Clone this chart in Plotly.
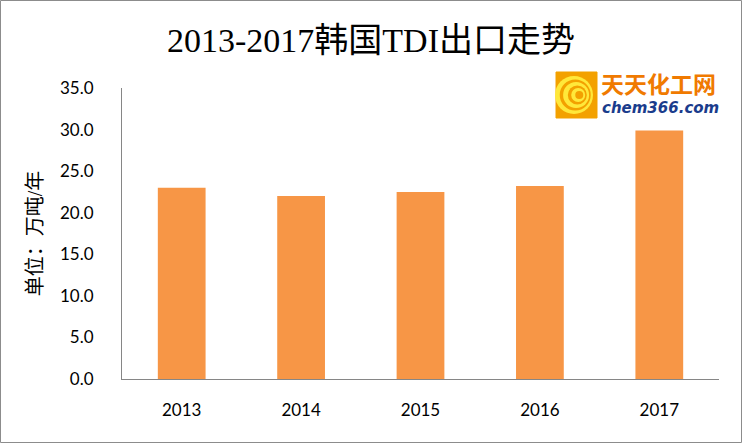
import plotly.graph_objects as go

years = ["2013", "2014", "2015", "2016", "2017"]
exports = [23.0, 22.0, 22.5, 23.2, 29.9]
y_ticks = [0, 5, 10, 15, 20, 25, 30, 35]
y_tick_text = ["0.0", "5.0", "10.0", "15.0", "20.0", "25.0", "30.0", "35.0"]

W, H = 742, 443
L, R, T, B = 122, 23, 88, 64
pw, ph = W - L - R, H - T - B

def px(x):
    return (x - L) / pw

def py(y):
    return (H - B - y) / ph

fig = go.Figure(go.Bar(x=years, y=exports, marker=dict(color="#F79646", line=dict(width=0)), width=0.4,
                       hoverinfo="skip"))

shapes = [
    # outer border
    dict(type="rect", xref="paper", yref="paper", x0=px(0.5), x1=px(W - 0.5), y0=py(0.5), y1=py(H - 0.5),
         line=dict(color="#8c8c8c", width=1), fillcolor="rgba(0,0,0,0)", layer="below"),
    # logo square
    dict(type="rect", xref="paper", yref="paper", x0=px(556), x1=px(597), y0=py(72), y1=py(118),
         line=dict(color="#F3A100", width=1), fillcolor="#F3A100"),
]
# concentric yellow rings
for r, c in [(19, "#FFE83A"), (15.5, "#F3A100"), (13, "#FFE83A"), (9.5, "#F3A100"), (7, "#FFE83A"), (4, "#F3A100")]:
    cx, cy = 574 + (19 - r) * 0.35, 95
    shapes.append(dict(type="circle", xref="paper", yref="paper", x0=px(cx - r), x1=px(cx + r),
                       y0=py(cy + r), y1=py(cy - r), line=dict(width=0), fillcolor=c))

fig.update_layout(
    width=W, height=H,
    margin=dict(l=L, r=R, t=T, b=B, autoexpand=False),
    paper_bgcolor="white", plot_bgcolor="white",
    showlegend=False,
    bargap=0.6,
    title=dict(text="2013-2017韩国TDI出口走势", x=0.5, xanchor="center", xref="container",
               y=1 - 40 / H, yanchor="middle", yref="container",
               font=dict(family="Liberation Serif, Noto Sans CJK SC", size=34, color="#000000")),
    xaxis=dict(showline=True, linecolor="#868686", linewidth=1, showgrid=False, ticks="",
               tickfont=dict(family="Lato, Open Sans", size=17, color="#000000"),
               ticklabelstandoff=16, fixedrange=True, automargin=False),
    yaxis=dict(range=[0, 35], tickvals=y_ticks, ticktext=y_tick_text, showline=True,
               linecolor="#868686", linewidth=1, showgrid=False, ticks="", zeroline=False,
               tickfont=dict(family="Lato, Open Sans", size=17, color="#000000"),
               ticklabelstandoff=24, automargin=False, fixedrange=True,
               title=dict(text="单位：万吨/年", standoff=12,
                          font=dict(family="Liberation Serif, Noto Sans CJK SC", size=20, color="#000000"))),
    shapes=shapes,
    annotations=[
        dict(text="<b>天天化工网</b>", xref="paper", yref="paper", x=px(599), y=py(83), xanchor="left",
             yanchor="middle", showarrow=False,
             font=dict(family="Noto Sans CJK SC", size=23, color="#F07A00")),
        dict(text="<b><i>chem366.com</i></b>", xref="paper", yref="paper", x=px(600), y=py(108),
             xanchor="left", yanchor="middle", showarrow=False,
             font=dict(family="DejaVu Sans", size=15, color="#1A3C8C")),
    ],
)

fig.write_html("out.html", config={"displayModeBar": False},
               post_script="document.body.style.margin='0';document.body.style.overflow='hidden';")
